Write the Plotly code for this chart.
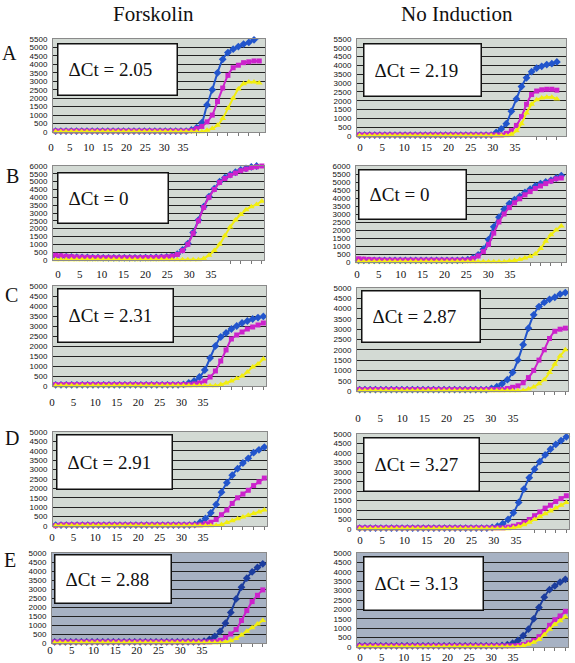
import plotly.graph_objects as go

# ---------------- data (cycle 1..40) ----------------
cycles = list(range(1, 41))
x_tick_vals = [0, 5, 10, 15, 20, 25, 30, 35]
x_tick_text = ["0", "5", "10", "15", "20", "25", "30", "35"]
col_titles = ["Forskolin", "No Induction"]
row_letters = ["A", "B", "C", "D", "E"]
delta_ct_forskolin = ["2.05", "0", "2.31", "2.91", "2.88"]
delta_ct_noinduction = ["2.19", "0", "2.87", "3.27", "3.13"]
y_max = [5500, 6000, 5000, 5000, 5000]

A_L_blue = [50, 50, 50, 50, 50, 50, 50, 50, 50, 50, 50, 50, 50, 50, 50, 50, 50, 50, 50, 50,
            50, 50, 50, 50, 50, 50, 120, 250, 550, 1600, 2500, 3500, 4300, 4700, 4900, 5050, 5200, 5300, 5450, 5550]
A_L_mag = [60, 60, 60, 60, 60, 60, 60, 60, 60, 60, 60, 60, 60, 60, 60, 60, 60, 60, 60, 60,
           60, 60, 60, 60, 60, 60, 80, 200, 330, 600, 1000, 1800, 2600, 3350, 3800, 3950, 4100, 4150, 4200, 4200]
A_L_yel = [10, 10, 10, 10, 10, 10, 10, 10, 10, 10, 10, 10, 10, 10, 10, 10, 10, 10, 10, 10,
           10, 10, 10, 10, 10, 10, 10, 10, 10, 100, 200, 400, 800, 1400, 2000, 2550, 2850, 2950, 2950, 2900]

A_R_blue = [50, 50, 50, 50, 50, 50, 50, 50, 50, 50, 50, 50, 50, 50, 50, 50, 50, 50, 50, 50,
            50, 50, 50, 50, 50, 50, 50, 200, 400, 700, 1400, 2100, 2800, 3300, 3650, 3850, 3950, 4050, 4100, 4200]
A_R_mag = [60, 60, 60, 60, 60, 60, 60, 60, 60, 60, 60, 60, 60, 60, 60, 60, 60, 60, 60, 60,
           60, 60, 60, 60, 60, 60, 60, 60, 60, 150, 300, 600, 1100, 1800, 2350, 2550, 2620, 2650, 2650, 2600]
A_R_yel = [10, 10, 10, 10, 10, 10, 10, 10, 10, 10, 10, 10, 10, 10, 10, 10, 10, 10, 10, 10,
           10, 10, 10, 10, 10, 10, 10, 10, 10, 10, 100, 300, 700, 1300, 1800, 2050, 2150, 2200, 2200, 2100]

B_L_blue = [250, 230, 210, 190, 175, 165, 160, 150, 150, 140, 140, 140, 140, 140, 140, 140, 140, 150, 150, 160,
            170, 190, 240, 380, 650, 1050, 1750, 2550, 3400, 4050, 4550, 5000, 5250, 5450, 5600, 5750, 5850, 5950, 6000, 6020]
B_L_mag = [300, 270, 240, 210, 190, 180, 170, 160, 160, 150, 150, 150, 150, 150, 150, 150, 150, 160, 160, 170,
           180, 200, 250, 350, 600, 1000, 1700, 2500, 3350, 4000, 4500, 4950, 5200, 5400, 5550, 5700, 5800, 5900, 5950, 6000]
B_L_yel = [10, 10, 10, 10, 10, 10, 10, 10, 10, 10, 10, 10, 10, 10, 10, 10, 10, 10, 10, 10,
           10, 10, 10, 10, 10, 10, 10, 10, 100, 300, 600, 1000, 1550, 2100, 2550, 2900, 3200, 3400, 3550, 3750]

B_R_blue = [100, 100, 100, 100, 100, 100, 100, 100, 100, 100, 100, 100, 100, 100, 100, 100, 100, 100, 100, 100,
            120, 150, 250, 450, 800, 1400, 2200, 2800, 3300, 3650, 3900, 4100, 4350, 4550, 4750, 4900, 5000, 5100, 5250, 5400]
B_R_mag = [200, 180, 160, 140, 130, 120, 120, 120, 120, 120, 120, 120, 120, 120, 120, 120, 120, 120, 120, 120,
           120, 130, 220, 380, 650, 1100, 1800, 2500, 3000, 3400, 3700, 3950, 4200, 4400, 4600, 4750, 4900, 5050, 5200, 5250]
B_R_yel = [10, 10, 10, 10, 10, 10, 10, 10, 10, 10, 10, 10, 10, 10, 10, 10, 10, 10, 10, 10,
           10, 10, 10, 10, 10, 10, 10, 10, 10, 60, 100, 150, 250, 350, 500, 850, 1300, 1700, 2000, 2250]

C_L_blue = [60, 60, 60, 60, 60, 60, 60, 60, 60, 60, 60, 60, 60, 60, 60, 60, 60, 60, 60, 60,
            60, 60, 60, 60, 80, 150, 250, 450, 800, 1400, 2000, 2450, 2650, 2850, 3000, 3150, 3250, 3350, 3420, 3480]
C_L_mag = [70, 70, 70, 70, 70, 70, 70, 70, 70, 70, 70, 70, 70, 70, 70, 70, 70, 70, 70, 70,
           70, 70, 70, 70, 70, 70, 100, 150, 250, 450, 750, 1250, 1800, 2350, 2550, 2700, 2850, 2950, 3050, 3150]
C_L_yel = [10, 10, 10, 10, 10, 10, 10, 10, 10, 10, 10, 10, 10, 10, 10, 10, 10, 10, 10, 10,
           10, 10, 10, 10, 10, 10, 10, 10, 10, 10, 10, 70, 150, 250, 370, 500, 700, 950, 1100, 1350]

C_R_blue = [70, 70, 70, 70, 70, 70, 70, 70, 70, 70, 70, 70, 70, 70, 70, 70, 70, 70, 70, 70,
            70, 70, 70, 70, 70, 130, 210, 350, 550, 900, 1500, 2250, 3050, 3700, 4100, 4300, 4450, 4550, 4700, 4780]
C_R_mag = [70, 70, 70, 70, 70, 70, 70, 70, 70, 70, 70, 70, 70, 70, 70, 70, 70, 70, 70, 70,
           70, 70, 70, 70, 70, 70, 70, 70, 120, 180, 250, 400, 650, 1000, 1500, 2000, 2550, 2900, 3000, 3050]
C_R_yel = [10, 10, 10, 10, 10, 10, 10, 10, 10, 10, 10, 10, 10, 10, 10, 10, 10, 10, 10, 10,
           10, 10, 10, 10, 10, 10, 10, 10, 10, 10, 10, 30, 100, 200, 350, 550, 900, 1300, 1700, 2000]

D_L_blue = [50, 50, 50, 50, 50, 50, 50, 50, 50, 50, 50, 50, 50, 50, 50, 50, 50, 50, 50, 50,
            50, 50, 50, 50, 50, 50, 80, 200, 400, 700, 1150, 1800, 2300, 2700, 3050, 3350, 3600, 3900, 4050, 4200]
D_L_mag = [20, 60, 60, 60, 60, 60, 60, 60, 60, 60, 60, 60, 60, 60, 60, 60, 60, 60, 60, 60,
           60, 60, 60, 60, 60, 60, 60, 60, 120, 200, 350, 600, 850, 1200, 1500, 1700, 1900, 2150, 2350, 2550]
D_L_yel = [10, 10, 10, 10, 10, 10, 10, 10, 10, 10, 10, 10, 10, 10, 10, 10, 10, 10, 10, 10,
           10, 10, 10, 10, 10, 10, 10, 10, 10, 10, 30, 80, 180, 280, 380, 480, 570, 670, 750, 850]

D_R_blue = [50, 50, 50, 50, 50, 50, 50, 50, 50, 50, 50, 50, 50, 50, 50, 50, 50, 50, 50, 50,
            50, 50, 50, 50, 50, 80, 150, 280, 500, 850, 1400, 2100, 2700, 3150, 3550, 3900, 4200, 4450, 4650, 4850]
D_R_mag = [60, 60, 60, 60, 60, 60, 60, 60, 60, 60, 60, 60, 60, 60, 60, 60, 60, 60, 60, 60,
           60, 60, 60, 60, 60, 60, 60, 60, 100, 150, 230, 350, 500, 700, 900, 1100, 1250, 1450, 1600, 1750]
D_R_yel = [10, 10, 10, 10, 10, 10, 10, 10, 10, 10, 10, 10, 10, 10, 10, 10, 10, 10, 10, 10,
           10, 10, 10, 10, 10, 10, 10, 10, 10, 60, 120, 220, 350, 500, 650, 800, 950, 1100, 1250, 1400]

E_L_blue = [60, 60, 60, 60, 60, 60, 60, 60, 60, 60, 60, 60, 60, 60, 60, 60, 60, 60, 60, 60,
            60, 60, 60, 60, 60, 60, 60, 60, 100, 200, 370, 650, 1100, 1700, 2450, 3100, 3600, 3950, 4200, 4400]
E_L_mag = [60, 60, 60, 60, 60, 60, 60, 60, 60, 60, 60, 60, 60, 60, 60, 60, 60, 60, 60, 60,
           60, 60, 60, 60, 60, 60, 60, 60, 60, 60, 80, 150, 300, 500, 750, 1250, 1800, 2300, 2650, 2950]
E_L_yel = [10, 10, 10, 10, 10, 10, 10, 10, 10, 10, 10, 10, 10, 10, 10, 10, 10, 10, 10, 10,
           10, 10, 10, 10, 10, 10, 10, 10, 10, 10, 10, 10, 50, 120, 250, 450, 650, 850, 1050, 1250]

E_R_blue = [60, 60, 60, 60, 60, 60, 60, 60, 60, 60, 60, 60, 60, 60, 60, 60, 60, 60, 60, 60,
            60, 60, 60, 60, 60, 60, 60, 80, 120, 200, 350, 600, 950, 1500, 2100, 2650, 3050, 3250, 3450, 3600]
E_R_mag = [60, 60, 60, 60, 60, 60, 60, 60, 60, 60, 60, 60, 60, 60, 60, 60, 60, 60, 60, 60,
           60, 60, 60, 60, 60, 60, 60, 60, 60, 60, 80, 130, 220, 350, 550, 800, 1150, 1450, 1650, 1900]
E_R_yel = [10, 10, 10, 10, 10, 10, 10, 10, 10, 10, 10, 10, 10, 10, 10, 10, 10, 10, 10, 10,
           10, 10, 10, 10, 10, 10, 10, 10, 10, 10, 10, 80, 150, 250, 400, 650, 950, 1200, 1400, 1600]

series_data = {
    ("A", 0): (A_L_blue, A_L_mag, A_L_yel), ("A", 1): (A_R_blue, A_R_mag, A_R_yel),
    ("B", 0): (B_L_blue, B_L_mag, B_L_yel), ("B", 1): (B_R_blue, B_R_mag, B_R_yel),
    ("C", 0): (C_L_blue, C_L_mag, C_L_yel), ("C", 1): (C_R_blue, C_R_mag, C_R_yel),
    ("D", 0): (D_L_blue, D_L_mag, D_L_yel), ("D", 1): (D_R_blue, D_R_mag, D_R_yel),
    ("E", 0): (E_L_blue, E_L_mag, E_L_yel), ("E", 1): (E_R_blue, E_R_mag, E_R_yel),
}

# ---------------- layout (pixels) ----------------
W, H = 575, 663
def fx(p): return p / W
def fy(p): return 1 - p / H

panel_geom = {
    ("A", 0): dict(plot=(53, 39, 265, 132), xr1=41.1, lab=(51, 183, 145), box=(57, 43, 177, 95)),
    ("A", 1): dict(plot=(357, 39, 566, 136), xr1=41.8, lab=(360, 515, 145), box=(363, 43, 481, 96)),
    ("B", 0): dict(plot=(53, 166, 264, 260), xr1=40.4, lab=(58, 211, 272), box=(57, 172, 168, 223)),
    ("B", 1): dict(plot=(356, 166, 566, 262), xr1=40.9, lab=(357, 510, 272), box=(358, 169, 466, 219)),
    ("C", 0): dict(plot=(53, 286, 266, 386), xr1=40.5, lab=(52, 203, 400), box=(57, 288, 173, 342)),
    ("C", 1): dict(plot=(357, 288, 568, 391), xr1=40.5, lab=(358, 513, 416), box=(361, 290, 480, 342)),
    ("D", 0): dict(plot=(53, 432, 267, 526), xr1=40.5, lab=(52, 203, 535), box=(56, 434, 172, 489)),
    ("D", 1): dict(plot=(357, 434, 569, 529), xr1=40.5, lab=(360, 516, 538), box=(363, 437, 479, 491)),
    ("E", 0): dict(plot=(52, 553, 266, 643), xr1=40.6, lab=(50, 202, 648), box=(54, 554, 171, 603)),
    ("E", 1): dict(plot=(357, 553, 568, 647), xr1=40.5, lab=(360, 513, 655), box=(363, 556, 483, 610)),
}
letter_pos = {"A": (9, 53), "B": (12, 176), "C": (11, 295), "D": (12, 438), "E": (10, 560)}
title_pos = [(153, 14), (457, 14)]

BG_LIGHT = "#d3dad4"
BG_DARK = "#a7b2c3"
BLUE_LIGHT = "#2255cc"
BLUE_DARK = "#1c3d9e"
MAGENTA = "#cc22cc"
YELLOW = "#f2ee10"
SERIF = "Liberation Serif, Times New Roman, serif"
SANS = "Liberation Sans, Arial, sans-serif"


def axid(n):
    return "" if n == 1 else str(n)


fig = go.Figure()
layout = dict(width=W, height=H, margin=dict(l=0, r=0, t=0, b=0, autoexpand=False),
              paper_bgcolor="white", plot_bgcolor="rgba(0,0,0,0)", showlegend=False)
shapes, annotations = [], []

for idx, (row, col) in enumerate([(r, c) for r in row_letters for c in (0, 1)]):
    n = idx + 1
    g = panel_geom[(row, col)]
    L, T, R, B = g["plot"]
    ri = row_letters.index(row)
    ymax = y_max[ri]
    blue, mag, yel = series_data[(row, col)]
    xa, ya = "x" + axid(n), "y" + axid(n)
    xl, yl = "x" + axid(n + 10), "y" + axid(n + 10)
    dark = row == "E"

    specs = [(blue, BLUE_DARK if dark else BLUE_LIGHT, "diamond", 6),
             (mag, MAGENTA, "square", 5),
             (yel, YELLOW, "triangle-up", 6)]
    for vals, colr, sym, sz in specs:
        fig.add_trace(go.Scatter(
            x=cycles, y=vals, xaxis=xa, yaxis=ya, mode="lines+markers",
            line=dict(color=colr, width=2, shape="spline", smoothing=0.7),
            marker=dict(color=colr, symbol=sym, size=sz, line=dict(width=0)),
            cliponaxis=False, hoverinfo="skip"))
    # empty trace that carries the cycle tick-label axis
    fig.add_trace(go.Scatter(x=[], y=[], xaxis=xl, yaxis=yl, hoverinfo="skip"))

    xr0, xr1 = 0.5, g["xr1"]
    p0, p35, ly = g["lab"]
    ppu = (p35 - p0) / 35.0

    def px_of(c, L=L, R=R, xr0=xr0, xr1=xr1):
        return L + (c - xr0) / (xr1 - xr0) * (R - L)
    tick_c = [c for c in range(2, 41, 2) if px_of(c) > p35 + 12]

    layout["xaxis" + axid(n)] = dict(domain=[fx(L), fx(R)], anchor=ya, range=[xr0, xr1],
                                     showgrid=False, zeroline=False, showticklabels=False,
                                     tickmode="array", tickvals=tick_c, ticks="outside",
                                     ticklen=3, tickwidth=1, tickcolor="#777777",
                                     showline=True, linecolor="#8a8a8a", linewidth=1, mirror=True)
    layout["yaxis" + axid(n)] = dict(domain=[fy(B), fy(T)], anchor=xa, range=[0, ymax],
                                     tick0=0, dtick=500, showgrid=True, gridcolor="#222222", gridwidth=1,
                                     zeroline=False, showline=True, linecolor="#8a8a8a", linewidth=1, mirror=True,
                                     ticks="", ticklabelstandoff=3,
                                     tickfont=dict(family=SANS, size=8, color="#111111"))
    lab_left = p0 - 8
    ypos = fy(ly - 7)
    layout["xaxis" + axid(n + 10)] = dict(domain=[fx(lab_left), fx(R)], anchor=yl,
                                          range=[(lab_left - p0) / ppu, (R - p0) / ppu],
                                          tickmode="array", tickvals=x_tick_vals, ticktext=x_tick_text,
                                          showgrid=False, zeroline=False, showline=False, ticks="",
                                          tickfont=dict(family=SERIF, size=11, color="#111111"))
    layout["yaxis" + axid(n + 10)] = dict(domain=[ypos - 0.002, ypos], anchor=xl, visible=False,
                                          showgrid=False, zeroline=False, range=[0, 1])
    shapes.append(dict(type="rect", xref=xa + " domain", yref=ya + " domain",
                       x0=0, x1=1, y0=0, y1=1, fillcolor=BG_DARK if dark else BG_LIGHT,
                       line=dict(width=0), layer="below"))
    bl, bt, br, bb = g["box"]
    dct = (delta_ct_forskolin if col == 0 else delta_ct_noinduction)[ri]
    annotations.append(dict(
        xref="paper", yref="paper", x=fx(bl), y=fy(bt), xanchor="left", yanchor="top",
        text=f"ΔCt = {dct}", showarrow=False, align="left", valign="middle",
        width=br - bl - 22, height=bb - bt - 22, borderpad=10,
        bgcolor="white", bordercolor="#111111", borderwidth=1.5,
        font=dict(family=SERIF, size=19, color="#111111")))

for row in row_letters:
    px, py = letter_pos[row]
    annotations.append(dict(xref="paper", yref="paper", x=fx(px), y=fy(py),
                            xanchor="center", yanchor="middle", text=row, showarrow=False,
                            font=dict(family=SERIF, size=20, color="#111111")))
for t, (px, py) in zip(col_titles, title_pos):
    annotations.append(dict(xref="paper", yref="paper", x=fx(px), y=fy(py),
                            xanchor="center", yanchor="middle", text=t, showarrow=False,
                            font=dict(family=SERIF, size=21, color="#111111")))

layout["shapes"] = shapes
layout["annotations"] = annotations
fig.update_layout(**layout)
fig.write_html("out.html", config={"displayModeBar": False},
               post_script="document.body.style.margin='0px';")
